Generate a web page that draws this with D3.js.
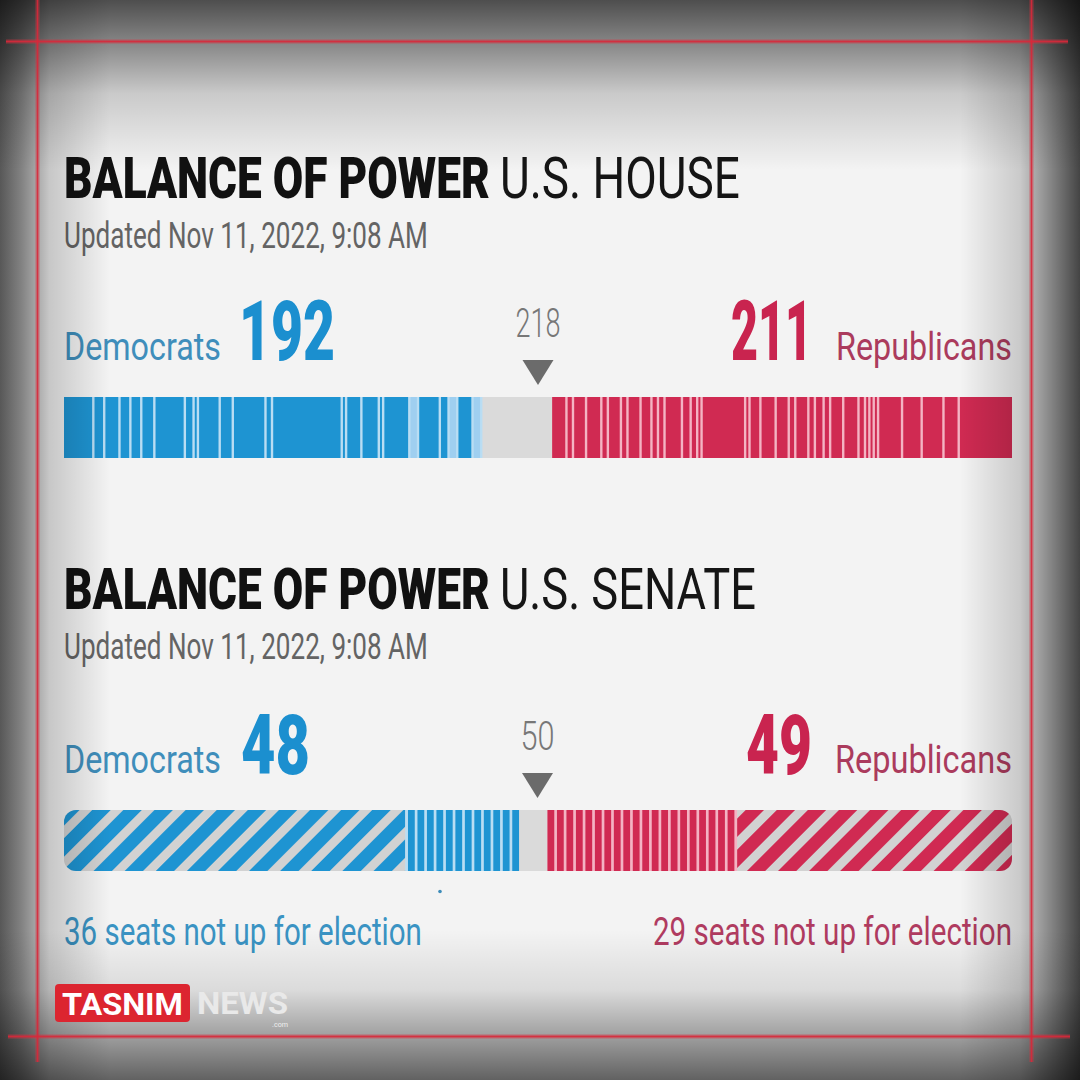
<!DOCTYPE html>
<html>
<head>
<meta charset="utf-8">
<script src="https://cdn.jsdelivr.net/npm/d3@7"></script>
<style>
  html, body { margin: 0; padding: 0; background: #f3f3f3; }
  svg { display: block; }
  text { font-family: Roboto, "Liberation Sans", sans-serif; }
</style>
</head>
<body>
<svg id="chart" width="1080" height="1080"></svg>
<script>
// ---------------- DATA ----------------
const houseTotal = 435;
const houseMajority = 218;
const houseDem = 192;
const houseRep = 211;
// runs of seats drawn without a separator (left to right)
const houseDemRuns = [14,5,7,5,5,6,14,4,2,10,6,15,3,32,2,7,8,2,12,4,10,4,4,7,4];
const houseDemLeadRuns = [19,22,24];   // runs shown in lighter blue
const houseRepRuns = [6,3,6,7,3,6,3,6,5,3,3,8,4,3,2,20,2,5,7,6,3,6,3,4,3,6,7,3,2,2,2,11,9,10,7,25];

const senateTotal = 100;
const senateMajority = 50;
const senateDem = 48;
const senateRep = 49;
const senateDemNotUp = 36;
const senateRepNotUp = 29;

const titleBold = "BALANCE OF POWER";
const chamberNames = ["U.S. HOUSE", "U.S. SENATE"];
const updatedText = "Updated Nov 11, 2022, 9:08 AM";
const partyNames = ["Democrats", "Republicans"];
const notUpLabels = [senateDemNotUp + " seats not up for election", senateRepNotUp + " seats not up for election"];

// ---------------- STYLE ----------------
const BLUE = "#1e94d2", BLUE_LEAD = "#9fcff0", BLUE_GAP = "#b9ddf3";
const RED = "#d02a52", RED_GAP = "#f4b3c3";
const GRAY = "#dadada", HATCH_GRAY = "#d2d2d2";

const svg = d3.select("#chart");
const W = 1080, H = 1080;
const defs = svg.append("defs");

svg.append("rect").attr("width", W).attr("height", H).attr("fill", "#f3f3f3");

function vGrad(id, x1, y1, x2, y2, stops) {
  const g = defs.append("linearGradient").attr("id", id)
    .attr("x1", x1).attr("y1", y1).attr("x2", x2).attr("y2", y2);
  stops.forEach(s => g.append("stop").attr("offset", s[0]).attr("stop-color", "#000").attr("stop-opacity", s[1]));
}
vGrad("vl", 0, 0, 1, 0, [[0, 0.64], [0.2, 0.46], [0.45, 0.18], [1, 0]]);
vGrad("vr", 1, 0, 0, 0, [[0, 0.72], [0.2, 0.5], [0.5, 0.17], [1, 0]]);
vGrad("vt", 0, 0, 0, 1, [[0, 0.68], [0.25, 0.45], [0.55, 0.17], [1, 0]]);
vGrad("vb", 0, 1, 0, 0, [[0, 0.6], [0.3, 0.34], [0.6, 0.1], [1, 0]]);

function hatch(id, color) {
  const p = defs.append("pattern").attr("id", id)
    .attr("patternUnits", "userSpaceOnUse").attr("width", 22).attr("height", 22)
    .attr("patternTransform", "rotate(45)");
  p.append("rect").attr("width", 22).attr("height", 22).attr("fill", HATCH_GRAY);
  p.append("rect").attr("width", 13).attr("height", 22).attr("fill", color);
}
hatch("hatchBlue", BLUE);
hatch("hatchRed", RED);

const L = 64, R = 1012;

// ---------- text helper: scale horizontally to the target width ----------
function txt(x, y, s, size, weight, fill, len, anchor, family) {
  const g = svg.append("g");
  const t = g.append("text").attr("x", 0).attr("y", 0).text(s)
    .attr("font-size", size).attr("font-weight", weight).attr("fill", fill);
  if (family) t.attr("font-family", family);
  const nat = t.node().getComputedTextLength() || len;
  const k = len ? len / nat : 1;
  const w = nat * k;
  const x0 = anchor === "end" ? x - w : anchor === "middle" ? x - w / 2 : x;
  g.attr("transform", `translate(${x0},${y}) scale(${k},1)`);
  return t;
}

function header(dy, chamber, chamberLen) {
  txt(L, 198 + dy, titleBold, 58, 900, "#111", 426);
  txt(500, 198 + dy, chamber, 58, 400, "#151515", chamberLen);
  txt(L, 248 + dy, updatedText, 36, 400, "#646464", 364);
}

// ================= HOUSE =================
header(0, chamberNames[0], 240);
const xH = d3.scaleLinear().domain([0, houseTotal]).range([L, R]);
const barH = { y: 397, h: 61 };

txt(L, 360, partyNames[0], 38, 400, "#3f8ebb", 157);
txt(239, 360, String(houseDem), 83, 900, "#1b8fcf", 96);
txt(731, 360, String(houseRep), 83, 900, "#c9244f", 81);
txt(836, 360, partyNames[1], 38, 400, "#ab3b5d", 176);
txt(xH(houseMajority - 0.5), 337, String(houseMajority), 40, 300, "#777", 45, "middle");
{
  const mx = xH(houseMajority - 0.5);
  svg.append("path").attr("d", `M${mx - 15.5},360 L${mx + 15.5},360 L${mx},385 Z`).attr("fill", "#6b6b6b");
}

svg.append("rect").attr("x", L).attr("y", barH.y).attr("width", R - L).attr("height", barH.h).attr("fill", GRAY);
svg.append("rect").attr("x", xH(0)).attr("y", barH.y).attr("width", xH(houseDem) - xH(0)).attr("height", barH.h).attr("fill", BLUE_GAP);
svg.append("rect").attr("x", xH(houseTotal - houseRep)).attr("y", barH.y).attr("width", R - xH(houseTotal - houseRep)).attr("height", barH.h).attr("fill", RED_GAP);

function runsToSegs(runs, start) {
  let s = start;
  return runs.map((n, i) => { const seg = { i, a: s, b: s + n }; s += n; return seg; });
}
const gap = 2.4;
svg.append("g").selectAll("rect").data(runsToSegs(houseDemRuns, 0)).join("rect")
  .attr("x", d => xH(d.a)).attr("y", barH.y)
  .attr("width", d => Math.max(0.8, xH(d.b) - xH(d.a) - gap)).attr("height", barH.h)
  .attr("fill", d => houseDemLeadRuns.includes(d.i) ? BLUE_LEAD : BLUE);
svg.append("g").selectAll("rect").data(runsToSegs(houseRepRuns, houseTotal - houseRep)).join("rect")
  .attr("x", d => xH(d.a) + (d.i > 0 ? gap : 0)).attr("y", barH.y)
  .attr("width", d => Math.max(0.8, xH(d.b) - xH(d.a) - (d.i > 0 ? gap : 0))).attr("height", barH.h)
  .attr("fill", RED);

// ================= SENATE =================
header(411, chamberNames[1], 256);
const xS = d3.scaleLinear().domain([0, senateTotal]).range([L, R]);
const barS = { y: 810, h: 61 };

txt(L, 773, partyNames[0], 38, 400, "#3f8ebb", 157);
txt(241, 774, String(senateDem), 83, 900, "#1b8fcf", 69);
txt(746, 774, String(senateRep), 83, 900, "#c9244f", 66);
txt(835, 773, partyNames[1], 38, 400, "#ab3b5d", 177);
txt(xS(senateMajority) - 0.5, 750, String(senateMajority), 40, 300, "#777", 34, "middle");
{
  const mx = xS(senateMajority) - 0.5;
  svg.append("path").attr("d", `M${mx - 15.5},773 L${mx + 15.5},773 L${mx},798 Z`).attr("fill", "#6b6b6b");
}

defs.append("clipPath").attr("id", "senClip").append("rect")
  .attr("x", L).attr("y", barS.y).attr("width", R - L).attr("height", barS.h).attr("rx", 12);
const gS = svg.append("g").attr("clip-path", "url(#senClip)");
gS.append("rect").attr("x", L).attr("y", barS.y).attr("width", R - L).attr("height", barS.h).attr("fill", GRAY);
gS.append("rect").attr("x", xS(0)).attr("y", barS.y).attr("width", xS(senateDemNotUp) - xS(0)).attr("height", barS.h).attr("fill", "url(#hatchBlue)");
gS.append("rect").attr("x", xS(senateTotal - senateRepNotUp)).attr("y", barS.y).attr("width", xS(senateTotal) - xS(senateTotal - senateRepNotUp)).attr("height", barS.h).attr("fill", "url(#hatchRed)");
gS.append("rect").attr("x", xS(senateDemNotUp)).attr("y", barS.y).attr("width", xS(senateDem) - xS(senateDemNotUp)).attr("height", barS.h).attr("fill", BLUE_GAP);
gS.append("rect").attr("x", xS(senateTotal - senateRep)).attr("y", barS.y).attr("width", xS(senateTotal - senateRepNotUp) - xS(senateTotal - senateRep)).attr("height", barS.h).attr("fill", RED_GAP);
const sGap = 2.7;
gS.append("g").selectAll("rect").data(d3.range(senateDemNotUp, senateDem)).join("rect")
  .attr("x", d => xS(d) + sGap).attr("y", barS.y).attr("width", d => xS(d + 1) - xS(d) - sGap).attr("height", barS.h)
  .attr("fill", BLUE);
gS.append("g").selectAll("rect").data(d3.range(senateTotal - senateRep, senateTotal - senateRepNotUp)).join("rect")
  .attr("x", d => xS(d)).attr("y", barS.y).attr("width", d => xS(d + 1) - xS(d) - sGap).attr("height", barS.h)
  .attr("fill", RED);

svg.append("circle").attr("cx", 440).attr("cy", 891.5).attr("r", 1.8).attr("fill", "#3d8cb9");

txt(L, 945, notUpLabels[0], 38, 400, "#3a93c3", 358);
txt(R, 945, notUpLabels[1], 38, 400, "#b03b60", 359, "end");

// ================= VIGNETTE =================
svg.append("rect").attr("x", 0).attr("y", 0).attr("width", 110).attr("height", H).attr("fill", "url(#vl)");
svg.append("rect").attr("x", W - 120).attr("y", 0).attr("width", 120).attr("height", H).attr("fill", "url(#vr)");
svg.append("rect").attr("x", 0).attr("y", 0).attr("width", W).attr("height", 170).attr("fill", "url(#vt)");
svg.append("rect").attr("x", 0).attr("y", H - 150).attr("width", W).attr("height", 150).attr("fill", "url(#vb)");

// ================= LOGO =================
svg.append("rect").attr("x", 55).attr("y", 984).attr("width", 135).attr("height", 38).attr("rx", 4).attr("fill", "#dc2530");
txt(62, 1015, "TASNIM", 32, 700, "#fff", 121, "start", "Liberation Sans, Arial, sans-serif");
txt(197, 1014, "NEWS", 31, 700, "#e9e9e9", 91, "start", "Liberation Sans, Arial, sans-serif");
txt(288, 1027, ".com", 7, 400, "#eeeeee", 16, "end", "Liberation Sans, Arial, sans-serif");

// ================= CROP LINES =================
const cropLines = [
  [6, 41.5, 1068, 41.5],
  [37.5, 0, 37.5, 1062],
  [1031.5, 0, 1031.5, 1062],
  [8, 1036.5, 1070, 1036.5]
];
const gl = svg.append("g");
gl.selectAll("line.glow").data(cropLines).join("line").attr("class", "glow")
  .attr("x1", d => d[0]).attr("y1", d => d[1]).attr("x2", d => d[2]).attr("y2", d => d[3])
  .attr("stroke", "#e03040").attr("stroke-width", 5).attr("stroke-opacity", 0.25);
gl.selectAll("line.core").data(cropLines).join("line").attr("class", "core")
  .attr("x1", d => d[0]).attr("y1", d => d[1]).attr("x2", d => d[2]).attr("y2", d => d[3])
  .attr("stroke", "#d8283a").attr("stroke-width", 1.8).attr("stroke-opacity", 0.9);
</script>
</body>
</html>
